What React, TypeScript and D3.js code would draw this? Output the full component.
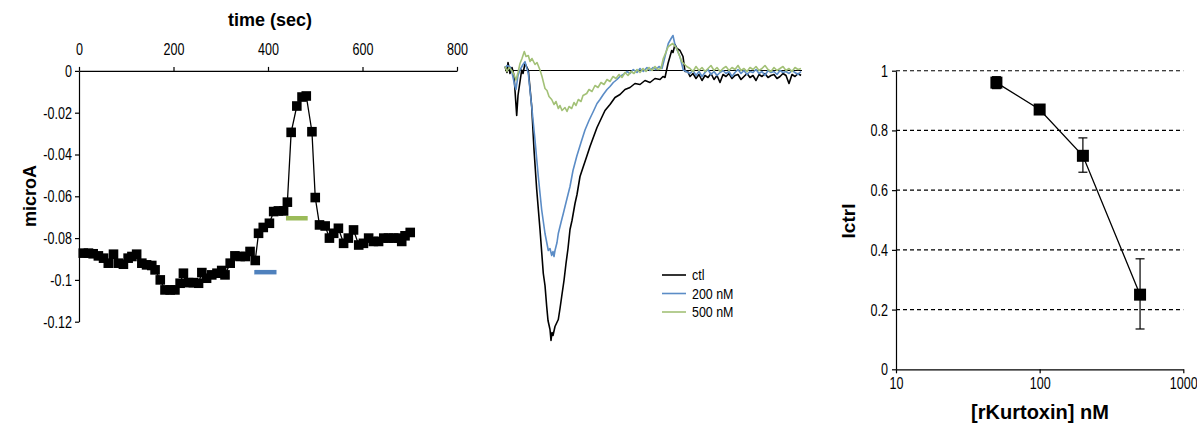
import * as d3 from 'd3';
import React, { useEffect, useRef } from 'react';

// left panel: current vs time
const timeSec = [9, 20, 30, 41, 52, 62, 73, 83, 94, 104, 112, 122, 133, 143, 154, 161, 172, 182, 193, 203,
  214, 221, 232, 242, 253, 260, 270, 281, 292, 302, 309, 320, 330, 341, 352, 362, 373, 380, 390, 403,
  412, 422, 433, 441, 449, 461, 472, 481, 493, 500, 509, 521, 530, 539, 549, 560, 570, 581, 592, 602,
  613, 623, 634, 645, 655, 666, 676, 683, 690, 701];
const microA = [-0.0872, -0.0872, -0.0875, -0.0885, -0.0896, -0.092, -0.0877, -0.092, -0.0925, -0.0896,
  -0.0888, -0.0877, -0.092, -0.0928, -0.0931, -0.0952, -0.1, -0.1048, -0.1048, -0.1048,
  -0.1016, -0.0968, -0.1013, -0.1013, -0.1016, -0.0965, -0.0992, -0.0976, -0.0968, -0.0955,
  -0.0976, -0.092, -0.0885, -0.0888, -0.0888, -0.0864, -0.0907, -0.0777, -0.0749, -0.0729,
  -0.0673, -0.067, -0.067, -0.0628, -0.0294, -0.0168, -0.0125, -0.012, -0.0291, -0.0606,
  -0.0737, -0.0742, -0.08, -0.0777, -0.0753, -0.0825, -0.08, -0.0761, -0.0833, -0.0825,
  -0.08, -0.0816, -0.0816, -0.08, -0.08, -0.08, -0.08, -0.0816, -0.0789, -0.0773];
// application bars [start, end, level]
const bar200 = [371, 418, -0.0963];
const bar500 = [438, 484, -0.0705];
const timeTicks = [0, 200, 400, 600, 800];
const microATicks = [0, -0.02, -0.04, -0.06, -0.08, -0.1, -0.12];

// middle panel: traces [ms, pA]
const traceCtl = [[0, 4], [2, -2], [3, 8], [5, -3], [7, 3], [9, -5], [10, -20], [11.7, -45], [13, -25], [14.3, -16],
  [16.7, 0.5], [18, -3], [20, 7], [22, 3], [23.3, 0.5], [26.7, -36], [29, -79], [31.7, -119], [35, -159],
  [38.3, -203], [40, -215], [41.7, -236], [43, -250], [45, -259], [46, -270], [47, -262], [48, -265], [50, -256],
  [53.3, -249], [55, -238], [56.7, -226], [59, -210], [61, -193], [63, -178], [65, -159], [67, -150], [70, -133],
  [72, -124], [75, -106], [78, -97], [81.7, -86], [85, -76], [88.3, -67], [92, -57], [96.7, -47], [100, -40],
  [105, -34], [110, -27], [115, -24], [120, -19], [125, -17], [130, -13], [135, -14], [140, -10], [145, -12],
  [150, -8], [155, -9], [158, -6], [160, -7], [163, 7], [166.7, 20], [168, 18], [170, 26], [172, 22], [175, 20],
  [178, 14], [180, -1], [182.7, -1], [185, -6], [188, -3], [191, -8], [194, -4], [197, -10], [200, -5], [203, -7],
  [206, -3], [209, -9], [212, -5], [215, -12], [218, -4], [221, -6], [224, -3], [227, -8], [230, -5], [233, -4],
  [236, -9], [239, -6], [242, -3], [245, -7], [248, -5], [251, -10], [254, -4], [257, -6], [260, -3], [263, -7],
  [266, -5], [269, -4], [272, -8], [275, -6], [278, -3], [281, -5], [284, -13], [287, -4], [290, -6], [293, -3], [296, -5]];
const trace200 = [[0, 2], [2, 5], [5, 3.8], [7, -2], [10, -16], [11, -19], [13, -5], [15, 0.5], [18, 6], [20, 8.8],
  [23.3, -3], [26.7, -36], [30, -69.5], [33.3, -106], [36.7, -139.5], [40, -163], [43.3, -180], [45, -178],
  [46.7, -185], [48, -181], [49, -186], [50, -180], [52, -172], [53.3, -163], [56, -152], [58.3, -143], [62, -128],
  [65, -116], [68, -100], [71.7, -86], [76, -72], [80, -59.5], [84, -50], [88.3, -41], [92, -33], [95, -29],
  [98.3, -24], [102, -19], [105, -16], [108.3, -12], [112, -9], [115, -6], [118.3, -4], [122, -1], [125, -3],
  [128.3, 1], [132, -2], [135, 2], [138.3, -1], [142, 3], [145, 0], [148, 3], [151, 1], [154, 4], [157, 2],
  [160, 14], [163.3, 27], [166.7, 33], [168, 35], [170, 25.5], [175, 13.8], [178.3, 0.5], [185, -3], [188, 0],
  [191, -5], [194, -1], [197, -6], [200, -2], [203, 1], [206, -4], [209, -1], [212, -5], [215, -2], [218, 0],
  [221, -3], [224, -1], [227, -6], [230, -2], [233, 1], [236, -3], [239, 0], [242, -4], [245, -1], [248, -2],
  [251, 1], [254, -3], [257, -1], [260, -5], [263, 0], [266, -2], [269, -1], [272, -4], [275, 0], [278, -2],
  [281, -1], [284, -3], [287, 0], [290, -2], [293, -4], [296, -1]];
const trace500 = [[0, 4], [2, -1], [4, 3], [6.7, 0], [9, -4], [11, -9.5], [13, -2], [15, 7], [17, 12], [19.3, 19],
  [21, 14], [23.3, 15], [25, 9], [27, 12], [30, 6], [32, 8], [35, 0.5], [37, -6], [40, -18], [42, -20], [44, -26],
  [46.7, -29], [49, -34], [51, -31], [53.3, -38], [55, -35], [57, -40], [60, -37], [62, -41], [64, -36], [66.7, -38],
  [69, -32], [71, -35], [73.3, -29], [76, -31], [78, -25], [81.7, -23], [84, -19], [87, -21], [90, -15], [93, -17],
  [96, -12], [99, -14], [102, -9], [105, -11], [108, -6], [111, -8], [114, -4], [117, -7], [120, -2], [123, -5],
  [126, -1], [129, -3], [132, 1], [135, -2], [138, 2], [141, -1], [144, 3], [147, 0], [150, 4], [153, 1], [156, 2],
  [158.3, 12], [163.3, 24], [167.7, 27], [171.7, 22], [176.7, 9], [181.7, 4], [185, 2], [188, -1], [191, 4], [194, 0],
  [197, 3], [200, -1], [203, 2], [206, 5], [209, 0], [212, 3], [215, -1], [218, 2], [221, 4], [224, 0], [227, 3],
  [230, 1], [233, 5], [236, 0], [239, 2], [242, -1], [245, 3], [248, 1], [251, 4], [254, 0], [257, 2], [260, 5],
  [263, 1], [266, -1], [269, 3], [272, 0], [275, 2], [278, 4], [281, 0], [284, 2], [287, -1], [290, 3], [293, 1], [296, 2]];
const traceNames = ['ctl', '200 nM', '500 nM'];
const traceColors = ['#000000', '#5b8cc6', '#a3c177'];

// right panel: dose response
const doseNM = [50, 100, 200, 500];
const iCtrl = [0.96, 0.87, 0.715, 0.25];
const errHi = [0.02, 0.01, 0.06, 0.12];
const errLo = [0.02, 0.01, 0.055, 0.115];
const iCtrlTicks = [0, 0.2, 0.4, 0.6, 0.8, 1];
const doseTicks = [10, 100, 1000];

const SQ = 0.74; // narrow tick font
const fontFam = '"Liberation Sans", Arial, sans-serif';

function fmt(v) {
  return v === 0 ? '0' : String(+v.toFixed(2));
}

export default function App() {
  const ref = useRef(null);

  useEffect(() => {
    const svg = d3.select(ref.current);
    svg.selectAll('*').remove();
    svg.attr('font-family', fontFam);

    const squeeze = (g, dx) => {
      g.attr('font-family', fontFam).attr('font-size', 17);
      g.selectAll('.tick text').attr('fill', '#000').attr('transform', `scale(${SQ},1)`);
      if (dx !== null) g.selectAll('.tick text').attr('x', dx / SQ);
      g.selectAll('path, line').attr('stroke', '#000').attr('stroke-width', 1.2);
    };

    // ---------- left panel ----------
    const xL = d3.scaleLinear().domain([0, 800]).range([79, 457]);
    const yL = d3.scaleLinear().domain([-0.12, 0]).range([321.7, 70.9]);

    svg.append('g').attr('transform', `translate(0,${yL(0)})`)
      .call(d3.axisTop(xL).tickValues(timeTicks).tickFormat(d => String(d)).tickSize(4).tickSizeOuter(0).tickPadding(12))
      .call(g => squeeze(g, null));

    svg.append('g').attr('transform', `translate(${xL(0)},0)`)
      .call(d3.axisLeft(yL).tickValues(microATicks).tickFormat(fmt).tickSize(4).tickSizeOuter(0).tickPadding(3))
      .call(g => squeeze(g, -7));

    svg.append('text').attr('x', 270).attr('y', 26).attr('text-anchor', 'middle')
      .attr('font-weight', 'bold').attr('font-size', 18).text('time (sec)');
    svg.append('text').attr('transform', 'translate(36,196) rotate(-90)').attr('text-anchor', 'middle')
      .attr('font-weight', 'bold').attr('font-size', 18).text('microA');

    [[bar200, '#4f81bd'], [bar500, '#9bbb59']].forEach(([b, c]) => {
      svg.append('line').attr('x1', xL(b[0])).attr('x2', xL(b[1]))
        .attr('y1', yL(b[2])).attr('y2', yL(b[2])).attr('stroke', c).attr('stroke-width', 4.5);
    });

    const lineL = d3.line().x((d, i) => xL(timeSec[i])).y(d => yL(d));
    svg.append('path').datum(microA).attr('d', lineL).attr('fill', 'none')
      .attr('stroke', '#000').attr('stroke-width', 1.3);
    svg.selectAll('.dotL').data(microA).enter().append('rect')
      .attr('x', (d, i) => xL(timeSec[i]) - 4.8).attr('y', d => yL(d) - 4.8)
      .attr('width', 9.6).attr('height', 9.6).attr('fill', '#000');

    // ---------- middle panel ----------
    const xM = d3.scaleLinear().domain([0, 297]).range([505, 802]);
    const yM = d3.scaleLinear().domain([-270, 40]).range([340.5, 30.5]);

    svg.append('line').attr('x1', xM(0)).attr('x2', xM(297)).attr('y1', yM(0)).attr('y2', yM(0))
      .attr('stroke', '#000').attr('stroke-width', 1.2);

    const lineM = d3.line().x(d => xM(d[0])).y(d => yM(d[1]));
    [traceCtl, trace200, trace500].forEach((tr, i) => {
      svg.append('path').datum(tr).attr('d', lineM).attr('fill', 'none')
        .attr('stroke', traceColors[i]).attr('stroke-width', 1.6).attr('stroke-linejoin', 'round');
    });

    const legend = svg.append('g').attr('transform', 'translate(662,275)');
    traceNames.forEach((n, i) => {
      legend.append('line').attr('x1', 0).attr('x2', 24).attr('y1', i * 18.5).attr('y2', i * 18.5)
        .attr('stroke', traceColors[i]).attr('stroke-width', 1.6);
      legend.append('text').attr('transform', `translate(30,${i * 18.5 + 5}) scale(0.83,1)`)
        .attr('font-size', 15).text(n);
    });

    // ---------- right panel ----------
    const xR = d3.scaleLog().domain([10, 1000]).range([896, 1183.3]);
    const yR = d3.scaleLinear().domain([0, 1]).range([369.3, 70.7]);

    svg.append('g').selectAll('line').data(iCtrlTicks.filter(t => t > 0)).enter().append('line')
      .attr('x1', xR(10)).attr('x2', xR(1000)).attr('y1', d => yR(d)).attr('y2', d => yR(d))
      .attr('stroke', '#000').attr('stroke-width', 1.1).attr('stroke-dasharray', '4,3');

    svg.append('g').attr('transform', `translate(0,${yR(0)})`)
      .call(d3.axisBottom(xR).tickValues(doseTicks).tickFormat(d => String(d)).tickSize(4).tickSizeOuter(0).tickPadding(4))
      .call(g => squeeze(g, null));

    svg.append('g').attr('transform', `translate(${xR(10)},0)`)
      .call(d3.axisLeft(yR).tickValues(iCtrlTicks).tickFormat(fmt).tickSize(4).tickSizeOuter(0).tickPadding(3))
      .call(g => squeeze(g, -8));

    svg.append('text').attr('x', 1040).attr('y', 419).attr('text-anchor', 'middle')
      .attr('font-weight', 'bold').attr('font-size', 20).text('[rKurtoxin] nM');
    svg.append('text').attr('transform', 'translate(855,221) rotate(-90)').attr('text-anchor', 'middle')
      .attr('font-weight', 'bold').attr('font-size', 19).text('Ictrl');

    const lineR = d3.line().x((d, i) => xR(doseNM[i])).y(d => yR(d));
    svg.append('path').datum(iCtrl).attr('d', lineR).attr('fill', 'none')
      .attr('stroke', '#000').attr('stroke-width', 1.3);

    const eb = svg.append('g').attr('stroke', '#000').attr('stroke-width', 1.2);
    iCtrl.forEach((v, i) => {
      const x = xR(doseNM[i]);
      const top = yR(v + errHi[i]);
      const bot = yR(v - errLo[i]);
      eb.append('line').attr('x1', x).attr('x2', x).attr('y1', top).attr('y2', bot);
      eb.append('line').attr('x1', x - 4.5).attr('x2', x + 4.5).attr('y1', top).attr('y2', top);
      eb.append('line').attr('x1', x - 4.5).attr('x2', x + 4.5).attr('y1', bot).attr('y2', bot);
    });

    svg.selectAll('.dotR').data(iCtrl).enter().append('rect')
      .attr('x', (d, i) => xR(doseNM[i]) - 6).attr('y', d => yR(d) - 6)
      .attr('width', 12).attr('height', 12).attr('fill', '#000');
  }, []);

  return (
    <svg ref={ref} width={1197} height={425}
      style={{ position: 'absolute', left: 0, top: 0, background: '#fff' }} />
  );
}
